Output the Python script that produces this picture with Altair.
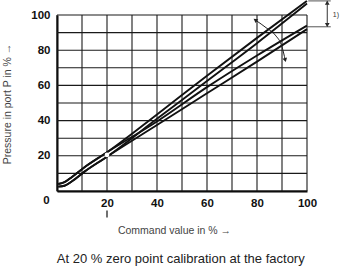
import altair as alt
import pandas as pd

FONT = "Liberation Sans Narrow, Liberation Sans, sans-serif"

# Command value (%) and pressure (%) for the four characteristic lines
cmd = [0.5, 3, 6, 11, 20, 40, 60, 80, 100]
up_high = [4, 5, 8, 13.5, 22, 43.5, 65.5, 87, 108]
up_low = [2.5, 3, 5.5, 11, 19.5, 41, 62.5, 84, 106.5]
lo_high = [4, 5, 8, 13.5, 22, 39.5, 59, 77, 94]
lo_low = [2.5, 3, 5.5, 11, 19.5, 37.5, 55.5, 73.5, 92]

# calibration point
cal_x = [20]
cal_y = [20.5]

# adjustment arc arrow
arc_x = [79.3, 84, 87.3, 90, 91.3]
arc_y = [97.2, 92.4, 88.6, 81.9, 74.4]
head_x = [79.3, 91.3, 108.1, 108.1]
head_y = [97.2, 74.4, 107.0, 94.3]
head_ang = [305, 166, 0, 180]

# dimension lines "1)"
dim_h_x = [100.5, 100]
dim_h_x2 = [109.5, 109.5]
dim_h_y = [108, 93.3]
dim_v_x = [108.1]
dim_v_y = [108]
dim_v_y2 = [93.3]

grid_vals = [0.0, 10.0, 20.0, 30.0, 40.0, 50.0, 60.0, 70.0, 80.0, 90.0, 100.0]
label_vals = [20, 40, 60, 80, 100]

rows = []
for name, vals in [("up_high", up_high), ("up_low", up_low), ("lo_high", lo_high), ("lo_low", lo_low)]:
    for x, y in zip(cmd, vals):
        rows.append({"series": name, "cmd": x, "p": y})
df = pd.DataFrame(rows)

xs = alt.Scale(domain=[0, 100], nice=False, zero=False)
ys = alt.Scale(domain=[0, 100], nice=False, zero=False)

x_axis = alt.Axis(
    values=label_vals, grid=False, ticks=False,
    domainColor="#000", domainWidth=2,
    labelFont=FONT, labelFontWeight="bold", labelFontSize=11.5, labelColor="#111",
    labelPadding=6, labelFlush=False, labelOverlap=False,
    title="Command value in % →", titleFont=FONT, titleFontWeight="normal",
    titleFontSize=10.5, titleColor="#444", titleX=117, titleY=39,
    titleBaseline="middle", titleAlign="center",
)
y_axis = alt.Axis(
    values=label_vals, grid=False, ticks=False,
    domainColor="#000", domainWidth=2,
    labelFont=FONT, labelFontWeight="bold", labelFontSize=11.5, labelColor="#111",
    labelPadding=7, labelFlush=False, labelOverlap=False,
    title="Pressure in port P in % →", titleFont=FONT, titleFontWeight="normal",
    titleFontSize=10.5, titleColor="#444", titleX=-49.5, titleY=88.5, titleAngle=270,
    titleBaseline="middle", titleAlign="center",
)

X = alt.X("cmd:Q", scale=xs, axis=x_axis)
Y = alt.Y("p:Q", scale=ys, axis=y_axis)

vgrid = alt.Chart(pd.DataFrame({"cmd": grid_vals})).mark_rule(
    color="#1a1a1a", strokeWidth=1.1, opacity=1
).encode(x=X)
hgrid = alt.Chart(pd.DataFrame({"p": grid_vals})).mark_rule(
    color="#1a1a1a", strokeWidth=1.1, opacity=1
).encode(y=Y)

lines = alt.Chart(df).mark_line(clip=False, strokeWidth=1.9, color="#111", interpolate="monotone").encode(
    x=X, y=Y, detail="series:N",
)

dot = alt.Chart(pd.DataFrame({"cmd": cal_x, "p": cal_y})).mark_circle(
    color="white", opacity=1, size=22, clip=False
).encode(x=X, y=Y)

arc = alt.Chart(pd.DataFrame({"cmd": arc_x, "p": arc_y})).mark_line(
    clip=False, color="#222", strokeWidth=1, interpolate="monotone"
).encode(x=X, y=Y)

heads = alt.Chart(pd.DataFrame({"cmd": head_x, "p": head_y, "ang": head_ang})).mark_point(
    shape="triangle-up", filled=True, color="#222", size=22, opacity=1, clip=False
).encode(x=X, y=Y, angle=alt.Angle("ang:Q", scale=None))

dim_h = alt.Chart(pd.DataFrame({"cmd": dim_h_x, "cmd2": dim_h_x2, "p": dim_h_y})).mark_rule(
    clip=False, color="#555", strokeWidth=1
).encode(x=X, x2="cmd2:Q", y=Y)

dim_v = alt.Chart(pd.DataFrame({"cmd": dim_v_x, "p": dim_v_y, "p2": dim_v_y2})).mark_rule(
    clip=False, color="#333", strokeWidth=1
).encode(x=X, y=Y, y2="p2:Q")

ann = pd.DataFrame({
    "cmd": [0, 110.3, 49.5],
    "p": [0, 100, -38.5],
    "t": ["0", "1)", "At 20 % zero point calibration at the factory"],
})
zero_lbl = alt.Chart(ann.iloc[[0]]).mark_text(
    font=FONT, fontWeight="bold", fontSize=11.5, color="#111", dx=-10.5, dy=10, clip=False
).encode(x=X, y=Y, text="t:N")
note_lbl = alt.Chart(ann.iloc[[1]]).mark_text(
    font=FONT, fontSize=7, color="#333", align="left", clip=False
).encode(x=X, y=Y, text="t:N")
caption = alt.Chart(ann.iloc[[2]]).mark_text(
    font=FONT, fontSize=13, color="#222", clip=False
).encode(x=X, y=Y, text="t:N")

tick20 = alt.Chart(pd.DataFrame({"cmd": [20], "p": [-11.1], "p2": [-15.1]})).mark_rule(
    clip=False, color="#222", strokeWidth=1.3
).encode(x=X, y=Y, y2="p2:Q")

chart = alt.layer(
    vgrid, hgrid, lines, dot, arc, heads, dim_h, dim_v, zero_lbl, note_lbl, caption, tick20
).properties(
    width=250, height=176,
    padding={"left": 57, "top": 15, "right": 33, "bottom": 75},
    autosize=alt.AutoSizeParams(type="none"),
    background="white",
).configure_view(stroke=None)

chart.save("out.html", embed_options={"renderer": "svg", "actions": False})
